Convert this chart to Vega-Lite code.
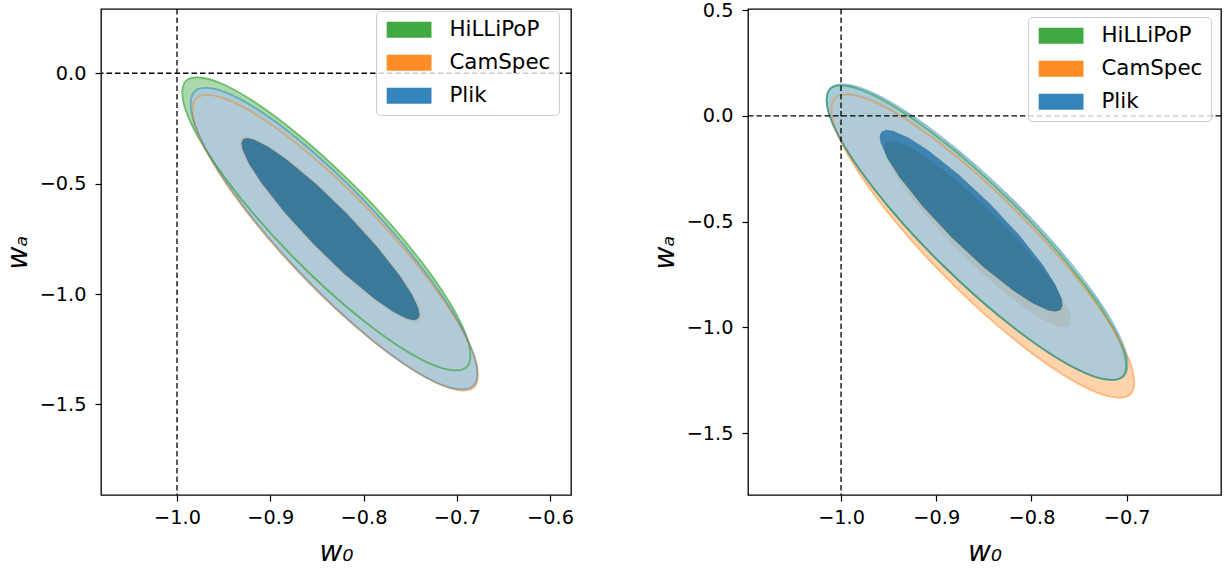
{
  "$schema": "https://vega.github.io/schema/vega-lite/v6.json",
  "background": "white",
  "padding": {"left": 3, "top": 0, "right": 0, "bottom": 0},
  "spacing": 75,
  "datasets": {
    "left": [
      {"s":"HiLLiPoP","l":95,"i":0,"w0":-0.6898,"wa":-1.3318},
      {"s":"HiLLiPoP","l":95,"i":1,"w0":-0.6911,"wa":-1.1742},
      {"s":"HiLLiPoP","l":95,"i":2,"w0":-0.7323,"wa":-0.8848},
      {"s":"HiLLiPoP","l":95,"i":3,"w0":-0.8023,"wa":-0.5411},
      {"s":"HiLLiPoP","l":95,"i":4,"w0":-0.8824,"wa":-0.2351},
      {"s":"HiLLiPoP","l":95,"i":5,"w0":-0.9511,"wa":-0.0489},
      {"s":"HiLLiPoP","l":95,"i":6,"w0":-0.9900,"wa":-0.0324},
      {"s":"HiLLiPoP","l":95,"i":7,"w0":-0.9888,"wa":-0.1899},
      {"s":"HiLLiPoP","l":95,"i":8,"w0":-0.9476,"wa":-0.4793},
      {"s":"HiLLiPoP","l":95,"i":9,"w0":-0.8776,"wa":-0.8231},
      {"s":"HiLLiPoP","l":95,"i":10,"w0":-0.7975,"wa":-1.1291},
      {"s":"HiLLiPoP","l":95,"i":11,"w0":-0.7288,"wa":-1.3152},
      {"s":"HiLLiPoP","l":68,"i":0,"w0":-0.7417,"wa":-1.1131},
      {"s":"HiLLiPoP","l":68,"i":1,"w0":-0.7452,"wa":-1.0247},
      {"s":"HiLLiPoP","l":68,"i":2,"w0":-0.7728,"wa":-0.8511},
      {"s":"HiLLiPoP","l":68,"i":3,"w0":-0.8173,"wa":-0.6385},
      {"s":"HiLLiPoP","l":68,"i":4,"w0":-0.8666,"wa":-0.4441},
      {"s":"HiLLiPoP","l":68,"i":5,"w0":-0.9075,"wa":-0.3199},
      {"s":"HiLLiPoP","l":68,"i":6,"w0":-0.9291,"wa":-0.2992},
      {"s":"HiLLiPoP","l":68,"i":7,"w0":-0.9256,"wa":-0.3875},
      {"s":"HiLLiPoP","l":68,"i":8,"w0":-0.8979,"wa":-0.5612},
      {"s":"HiLLiPoP","l":68,"i":9,"w0":-0.8535,"wa":-0.7737},
      {"s":"HiLLiPoP","l":68,"i":10,"w0":-0.8042,"wa":-0.9682},
      {"s":"HiLLiPoP","l":68,"i":11,"w0":-0.7633,"wa":-1.0924},
      {"s":"CamSpec","l":95,"i":0,"w0":-0.6817,"wa":-1.4231},
      {"s":"CamSpec","l":95,"i":1,"w0":-0.6826,"wa":-1.2655},
      {"s":"CamSpec","l":95,"i":2,"w0":-0.7231,"wa":-0.9744},
      {"s":"CamSpec","l":95,"i":3,"w0":-0.7922,"wa":-0.6279},
      {"s":"CamSpec","l":95,"i":4,"w0":-0.8716,"wa":-0.3187},
      {"s":"CamSpec","l":95,"i":5,"w0":-0.9399,"wa":-0.1298},
      {"s":"CamSpec","l":95,"i":6,"w0":-0.9788,"wa":-0.1118},
      {"s":"CamSpec","l":95,"i":7,"w0":-0.9779,"wa":-0.2694},
      {"s":"CamSpec","l":95,"i":8,"w0":-0.9374,"wa":-0.5605},
      {"s":"CamSpec","l":95,"i":9,"w0":-0.8683,"wa":-0.9071},
      {"s":"CamSpec","l":95,"i":10,"w0":-0.7889,"wa":-1.2162},
      {"s":"CamSpec","l":95,"i":11,"w0":-0.7207,"wa":-1.4051},
      {"s":"CamSpec","l":68,"i":0,"w0":-0.7398,"wa":-1.1212},
      {"s":"CamSpec","l":68,"i":1,"w0":-0.7430,"wa":-1.0298},
      {"s":"CamSpec","l":68,"i":2,"w0":-0.7710,"wa":-0.8516},
      {"s":"CamSpec","l":68,"i":3,"w0":-0.8162,"wa":-0.6345},
      {"s":"CamSpec","l":68,"i":4,"w0":-0.8666,"wa":-0.4365},
      {"s":"CamSpec","l":68,"i":5,"w0":-0.9086,"wa":-0.3108},
      {"s":"CamSpec","l":68,"i":6,"w0":-0.9310,"wa":-0.2910},
      {"s":"CamSpec","l":68,"i":7,"w0":-0.9278,"wa":-0.3825},
      {"s":"CamSpec","l":68,"i":8,"w0":-0.8998,"wa":-0.5606},
      {"s":"CamSpec","l":68,"i":9,"w0":-0.8546,"wa":-0.7778},
      {"s":"CamSpec","l":68,"i":10,"w0":-0.8042,"wa":-0.9757},
      {"s":"CamSpec","l":68,"i":11,"w0":-0.7622,"wa":-1.1014},
      {"s":"Plik","l":95,"i":0,"w0":-0.6829,"wa":-1.4183},
      {"s":"Plik","l":95,"i":1,"w0":-0.6832,"wa":-1.2579},
      {"s":"Plik","l":95,"i":2,"w0":-0.7233,"wa":-0.9612},
      {"s":"Plik","l":95,"i":3,"w0":-0.7924,"wa":-0.6077},
      {"s":"Plik","l":95,"i":4,"w0":-0.8721,"wa":-0.2921},
      {"s":"Plik","l":95,"i":5,"w0":-0.9409,"wa":-0.0990},
      {"s":"Plik","l":95,"i":6,"w0":-0.9805,"wa":-0.0801},
      {"s":"Plik","l":95,"i":7,"w0":-0.9802,"wa":-0.2405},
      {"s":"Plik","l":95,"i":8,"w0":-0.9401,"wa":-0.5372},
      {"s":"Plik","l":95,"i":9,"w0":-0.8709,"wa":-0.8907},
      {"s":"Plik","l":95,"i":10,"w0":-0.7913,"wa":-1.2063},
      {"s":"Plik","l":95,"i":11,"w0":-0.7225,"wa":-1.3994}
    ],
    "ringL": [
      {"s":"Plik","p":"o","i":0,"w0":-0.6829,"wa":-1.4183},
      {"s":"Plik","p":"o","i":1,"w0":-0.6784,"wa":-1.3836},
      {"s":"Plik","p":"o","i":2,"w0":-0.6785,"wa":-1.3296},
      {"s":"Plik","p":"o","i":3,"w0":-0.6873,"wa":-1.2162},
      {"s":"Plik","p":"o","i":4,"w0":-0.7060,"wa":-1.0709},
      {"s":"Plik","p":"o","i":5,"w0":-0.7439,"wa":-0.8451},
      {"s":"Plik","p":"o","i":6,"w0":-0.7924,"wa":-0.6077},
      {"s":"Plik","p":"o","i":7,"w0":-0.8457,"wa":-0.3874},
      {"s":"Plik","p":"o","i":8,"w0":-0.8972,"wa":-0.2107},
      {"s":"Plik","p":"o","i":9,"w0":-0.9310,"wa":-0.1199},
      {"s":"Plik","p":"o","i":10,"w0":-0.9581,"wa":-0.0721},
      {"s":"Plik","p":"o","i":11,"w0":-0.9714,"wa":-0.0657},
      {"s":"Plik","p":"o","i":12,"w0":-0.9805,"wa":-0.0801},
      {"s":"Plik","p":"o","i":13,"w0":-0.9850,"wa":-0.1148},
      {"s":"Plik","p":"o","i":14,"w0":-0.9849,"wa":-0.1689},
      {"s":"Plik","p":"o","i":15,"w0":-0.9761,"wa":-0.2822},
      {"s":"Plik","p":"o","i":16,"w0":-0.9574,"wa":-0.4275},
      {"s":"Plik","p":"o","i":17,"w0":-0.9195,"wa":-0.6534},
      {"s":"Plik","p":"o","i":18,"w0":-0.8709,"wa":-0.8907},
      {"s":"Plik","p":"o","i":19,"w0":-0.8177,"wa":-1.1110},
      {"s":"Plik","p":"o","i":20,"w0":-0.7661,"wa":-1.2877},
      {"s":"Plik","p":"o","i":21,"w0":-0.7323,"wa":-1.3785},
      {"s":"Plik","p":"o","i":22,"w0":-0.7053,"wa":-1.4264},
      {"s":"Plik","p":"o","i":23,"w0":-0.6920,"wa":-1.4327},
      {"s":"Plik","p":"o","i":24,"w0":-0.6829,"wa":-1.4183},
      {"s":"Plik","p":"h","i":25,"w0":-0.7417,"wa":-1.1131},
      {"s":"Plik","p":"h","i":26,"w0":-0.7462,"wa":-1.1186},
      {"s":"Plik","p":"h","i":27,"w0":-0.7535,"wa":-1.1117},
      {"s":"Plik","p":"h","i":28,"w0":-0.7690,"wa":-1.0783},
      {"s":"Plik","p":"h","i":29,"w0":-0.7890,"wa":-1.0195},
      {"s":"Plik","p":"h","i":30,"w0":-0.8204,"wa":-0.9088},
      {"s":"Plik","p":"h","i":31,"w0":-0.8535,"wa":-0.7737},
      {"s":"Plik","p":"h","i":32,"w0":-0.8845,"wa":-0.6305},
      {"s":"Plik","p":"h","i":33,"w0":-0.9095,"wa":-0.4963},
      {"s":"Plik","p":"h","i":34,"w0":-0.9226,"wa":-0.4115},
      {"s":"Plik","p":"h","i":35,"w0":-0.9297,"wa":-0.3468},
      {"s":"Plik","p":"h","i":36,"w0":-0.9309,"wa":-0.3171},
      {"s":"Plik","p":"h","i":37,"w0":-0.9291,"wa":-0.2992},
      {"s":"Plik","p":"h","i":38,"w0":-0.9246,"wa":-0.2936},
      {"s":"Plik","p":"h","i":39,"w0":-0.9173,"wa":-0.3006},
      {"s":"Plik","p":"h","i":40,"w0":-0.9018,"wa":-0.3340},
      {"s":"Plik","p":"h","i":41,"w0":-0.8818,"wa":-0.3927},
      {"s":"Plik","p":"h","i":42,"w0":-0.8504,"wa":-0.5034},
      {"s":"Plik","p":"h","i":43,"w0":-0.8173,"wa":-0.6385},
      {"s":"Plik","p":"h","i":44,"w0":-0.7863,"wa":-0.7818},
      {"s":"Plik","p":"h","i":45,"w0":-0.7613,"wa":-0.9159},
      {"s":"Plik","p":"h","i":46,"w0":-0.7482,"wa":-1.0007},
      {"s":"Plik","p":"h","i":47,"w0":-0.7411,"wa":-1.0654},
      {"s":"Plik","p":"h","i":48,"w0":-0.7399,"wa":-1.0952},
      {"s":"Plik","p":"h","i":49,"w0":-0.7417,"wa":-1.1131}
    ],
    "right": [
      {"s":"HiLLiPoP","l":95,"i":0,"w0":-0.7048,"wa":-1.2334},
      {"s":"HiLLiPoP","l":95,"i":1,"w0":-0.7071,"wa":-1.0686},
      {"s":"HiLLiPoP","l":95,"i":2,"w0":-0.7499,"wa":-0.7656},
      {"s":"HiLLiPoP","l":95,"i":3,"w0":-0.8216,"wa":-0.4056},
      {"s":"HiLLiPoP","l":95,"i":4,"w0":-0.9031,"wa":-0.0850},
      {"s":"HiLLiPoP","l":95,"i":5,"w0":-0.9724,"wa":0.1102},
      {"s":"HiLLiPoP","l":95,"i":6,"w0":-1.0112,"wa":0.1277},
      {"s":"HiLLiPoP","l":95,"i":7,"w0":-1.0089,"wa":-0.0372},
      {"s":"HiLLiPoP","l":95,"i":8,"w0":-0.9661,"wa":-0.3402},
      {"s":"HiLLiPoP","l":95,"i":9,"w0":-0.8944,"wa":-0.7002},
      {"s":"HiLLiPoP","l":95,"i":10,"w0":-0.8129,"wa":-1.0207},
      {"s":"HiLLiPoP","l":95,"i":11,"w0":-0.7436,"wa":-1.2159},
      {"s":"HiLLiPoP","l":68,"i":0,"w0":-0.7605,"wa":-0.9929},
      {"s":"HiLLiPoP","l":68,"i":1,"w0":-0.7635,"wa":-0.8958},
      {"s":"HiLLiPoP","l":68,"i":2,"w0":-0.7914,"wa":-0.7086},
      {"s":"HiLLiPoP","l":68,"i":3,"w0":-0.8367,"wa":-0.4816},
      {"s":"HiLLiPoP","l":68,"i":4,"w0":-0.8872,"wa":-0.2756},
      {"s":"HiLLiPoP","l":68,"i":5,"w0":-0.9295,"wa":-0.1457},
      {"s":"HiLLiPoP","l":68,"i":6,"w0":-0.9522,"wa":-0.1267},
      {"s":"HiLLiPoP","l":68,"i":7,"w0":-0.9492,"wa":-0.2238},
      {"s":"HiLLiPoP","l":68,"i":8,"w0":-0.9213,"wa":-0.4109},
      {"s":"HiLLiPoP","l":68,"i":9,"w0":-0.8760,"wa":-0.6380},
      {"s":"HiLLiPoP","l":68,"i":10,"w0":-0.8255,"wa":-0.8440},
      {"s":"HiLLiPoP","l":68,"i":11,"w0":-0.7832,"wa":-0.9739},
      {"s":"CamSpec","l":95,"i":0,"w0":-0.6964,"wa":-1.3169},
      {"s":"CamSpec","l":95,"i":1,"w0":-0.6981,"wa":-1.1473},
      {"s":"CamSpec","l":95,"i":2,"w0":-0.7407,"wa":-0.8351},
      {"s":"CamSpec","l":95,"i":3,"w0":-0.8129,"wa":-0.4640},
      {"s":"CamSpec","l":95,"i":4,"w0":-0.8953,"wa":-0.1334},
      {"s":"CamSpec","l":95,"i":5,"w0":-0.9658,"wa":0.0681},
      {"s":"CamSpec","l":95,"i":6,"w0":-1.0057,"wa":0.0864},
      {"s":"CamSpec","l":95,"i":7,"w0":-1.0040,"wa":-0.0832},
      {"s":"CamSpec","l":95,"i":8,"w0":-0.9614,"wa":-0.3954},
      {"s":"CamSpec","l":95,"i":9,"w0":-0.8892,"wa":-0.7665},
      {"s":"CamSpec","l":95,"i":10,"w0":-0.8068,"wa":-1.0971},
      {"s":"CamSpec","l":95,"i":11,"w0":-0.7362,"wa":-1.2986},
      {"s":"CamSpec","l":68,"i":0,"w0":-0.7605,"wa":-0.9929},
      {"s":"CamSpec","l":68,"i":1,"w0":-0.7635,"wa":-0.8958},
      {"s":"CamSpec","l":68,"i":2,"w0":-0.7914,"wa":-0.7086},
      {"s":"CamSpec","l":68,"i":3,"w0":-0.8367,"wa":-0.4816},
      {"s":"CamSpec","l":68,"i":4,"w0":-0.8872,"wa":-0.2756},
      {"s":"CamSpec","l":68,"i":5,"w0":-0.9295,"wa":-0.1457},
      {"s":"CamSpec","l":68,"i":6,"w0":-0.9522,"wa":-0.1267},
      {"s":"CamSpec","l":68,"i":7,"w0":-0.9492,"wa":-0.2238},
      {"s":"CamSpec","l":68,"i":8,"w0":-0.9213,"wa":-0.4109},
      {"s":"CamSpec","l":68,"i":9,"w0":-0.8760,"wa":-0.6380},
      {"s":"CamSpec","l":68,"i":10,"w0":-0.8255,"wa":-0.8440},
      {"s":"CamSpec","l":68,"i":11,"w0":-0.7832,"wa":-0.9739},
      {"s":"Plik","l":95,"i":0,"w0":-0.7035,"wa":-1.2322},
      {"s":"Plik","l":95,"i":1,"w0":-0.7053,"wa":-1.0648},
      {"s":"Plik","l":95,"i":2,"w0":-0.7478,"wa":-0.7593},
      {"s":"Plik","l":95,"i":3,"w0":-0.8196,"wa":-0.3976},
      {"s":"Plik","l":95,"i":4,"w0":-0.9015,"wa":-0.0765},
      {"s":"Plik","l":95,"i":5,"w0":-0.9715,"wa":0.1178},
      {"s":"Plik","l":95,"i":6,"w0":-1.0108,"wa":0.1334},
      {"s":"Plik","l":95,"i":7,"w0":-1.0090,"wa":-0.0340},
      {"s":"Plik","l":95,"i":8,"w0":-0.9665,"wa":-0.3395},
      {"s":"Plik","l":95,"i":9,"w0":-0.8947,"wa":-0.7012},
      {"s":"Plik","l":95,"i":10,"w0":-0.8128,"wa":-1.0223},
      {"s":"Plik","l":95,"i":11,"w0":-0.7429,"wa":-1.2166}
    ],
    "ringR": [
      {"s":"Plik","p":"o","i":0,"w0":-0.7035,"wa":-1.2322},
      {"s":"Plik","p":"o","i":1,"w0":-0.6993,"wa":-1.1955},
      {"s":"Plik","p":"o","i":2,"w0":-0.6999,"wa":-1.1391},
      {"s":"Plik","p":"o","i":3,"w0":-0.7098,"wa":-1.0217},
      {"s":"Plik","p":"o","i":4,"w0":-0.7296,"wa":-0.8720},
      {"s":"Plik","p":"o","i":5,"w0":-0.7693,"wa":-0.6403},
      {"s":"Plik","p":"o","i":6,"w0":-0.8196,"wa":-0.3976},
      {"s":"Plik","p":"o","i":7,"w0":-0.8745,"wa":-0.1732},
      {"s":"Plik","p":"o","i":8,"w0":-0.9272,"wa":0.0058},
      {"s":"Plik","p":"o","i":9,"w0":-0.9615,"wa":0.0970},
      {"s":"Plik","p":"o","i":10,"w0":-0.9887,"wa":0.1442},
      {"s":"Plik","p":"o","i":11,"w0":-1.0020,"wa":0.1494},
      {"s":"Plik","p":"o","i":12,"w0":-1.0108,"wa":0.1334},
      {"s":"Plik","p":"o","i":13,"w0":-1.0150,"wa":0.0967},
      {"s":"Plik","p":"o","i":14,"w0":-1.0144,"wa":0.0403},
      {"s":"Plik","p":"o","i":15,"w0":-1.0046,"wa":-0.0771},
      {"s":"Plik","p":"o","i":16,"w0":-0.9847,"wa":-0.2268},
      {"s":"Plik","p":"o","i":17,"w0":-0.9450,"wa":-0.4585},
      {"s":"Plik","p":"o","i":18,"w0":-0.8947,"wa":-0.7012},
      {"s":"Plik","p":"o","i":19,"w0":-0.8399,"wa":-0.9256},
      {"s":"Plik","p":"o","i":20,"w0":-0.7871,"wa":-1.1046},
      {"s":"Plik","p":"o","i":21,"w0":-0.7528,"wa":-1.1958},
      {"s":"Plik","p":"o","i":22,"w0":-0.7256,"wa":-1.2429},
      {"s":"Plik","p":"o","i":23,"w0":-0.7124,"wa":-1.2482},
      {"s":"Plik","p":"o","i":24,"w0":-0.7035,"wa":-1.2322},
      {"s":"Plik","p":"h","i":25,"w0":-0.7696,"wa":-0.9177},
      {"s":"Plik","p":"h","i":26,"w0":-0.7745,"wa":-0.9251},
      {"s":"Plik","p":"h","i":27,"w0":-0.7821,"wa":-0.9196},
      {"s":"Plik","p":"h","i":28,"w0":-0.7981,"wa":-0.8873},
      {"s":"Plik","p":"h","i":29,"w0":-0.8185,"wa":-0.8283},
      {"s":"Plik","p":"h","i":30,"w0":-0.8502,"wa":-0.7152},
      {"s":"Plik","p":"h","i":31,"w0":-0.8835,"wa":-0.5757},
      {"s":"Plik","p":"h","i":32,"w0":-0.9145,"wa":-0.4266},
      {"s":"Plik","p":"h","i":33,"w0":-0.9392,"wa":-0.2858},
      {"s":"Plik","p":"h","i":34,"w0":-0.9519,"wa":-0.1959},
      {"s":"Plik","p":"h","i":35,"w0":-0.9586,"wa":-0.1265},
      {"s":"Plik","p":"h","i":36,"w0":-0.9595,"wa":-0.0940},
      {"s":"Plik","p":"h","i":37,"w0":-0.9574,"wa":-0.0737},
      {"s":"Plik","p":"h","i":38,"w0":-0.9525,"wa":-0.0662},
      {"s":"Plik","p":"h","i":39,"w0":-0.9449,"wa":-0.0718},
      {"s":"Plik","p":"h","i":40,"w0":-0.9290,"wa":-0.1041},
      {"s":"Plik","p":"h","i":41,"w0":-0.9085,"wa":-0.1631},
      {"s":"Plik","p":"h","i":42,"w0":-0.8768,"wa":-0.2761},
      {"s":"Plik","p":"h","i":43,"w0":-0.8435,"wa":-0.4156},
      {"s":"Plik","p":"h","i":44,"w0":-0.8126,"wa":-0.5648},
      {"s":"Plik","p":"h","i":45,"w0":-0.7878,"wa":-0.7056},
      {"s":"Plik","p":"h","i":46,"w0":-0.7751,"wa":-0.7954},
      {"s":"Plik","p":"h","i":47,"w0":-0.7684,"wa":-0.8648},
      {"s":"Plik","p":"h","i":48,"w0":-0.7675,"wa":-0.8973},
      {"s":"Plik","p":"h","i":49,"w0":-0.7696,"wa":-0.9177}
    ],
    "ref": [{"w0": -1, "wa": 0}]
  },
  "hconcat": [
    {
      "width": 470,
      "height": 486,
      "layer": [
        {
          "data": {"name": "left"},
          "encoding": {
            "x": {"field": "w0", "type": "quantitative", "title": "w₀", "scale": {"domain": [-1.0815, -0.5775], "nice": false, "zero": false}, "axis": {"values": [-1, -0.9, -0.8, -0.7, -0.6], "format": ".1f"}},
            "y": {"field": "wa", "type": "quantitative", "title": "wₐ", "scale": {"domain": [-1.91, 0.291], "nice": false, "zero": false}, "axis": {"values": [0, -0.5, -1, -1.5], "format": ".1f"}},
            "order": {"field": "i", "type": "quantitative"}
          },
          "layer": [
            {"transform": [{"filter": "datum.s === 'HiLLiPoP' && datum.l === 95"}], "mark": {"type": "line", "filled": true, "interpolate": "cardinal-closed", "fill": "#abd9ab"}},
            {"transform": [{"filter": "datum.s === 'CamSpec' && datum.l === 95"}], "mark": {"type": "line", "filled": true, "interpolate": "cardinal-closed", "fill": "#ffcc9f", "opacity": 0.85}},
            {"transform": [{"filter": "datum.s === 'HiLLiPoP' && datum.l === 68"}], "mark": {"type": "line", "filled": true, "interpolate": "cardinal-closed"},
             "encoding": {"fill": {"field": "s", "type": "nominal", "scale": {"domain": ["HiLLiPoP", "CamSpec", "Plik"], "range": ["#2ca02c", "#ff7f0e", "#1f77b4"]}, "legend": {"title": null, "orient": "none", "legendX": 275, "legendY": 2}}}},
            {"transform": [{"filter": "datum.s === 'CamSpec' && datum.l === 68"}], "mark": {"type": "line", "filled": true, "interpolate": "cardinal-closed", "opacity": 0.85},
             "encoding": {"fill": {"field": "s", "type": "nominal", "scale": {"domain": ["HiLLiPoP", "CamSpec", "Plik"], "range": ["#2ca02c", "#ff7f0e", "#1f77b4"]}, "legend": {"title": null, "orient": "none", "legendX": 275, "legendY": 2}}}},
            {"data": {"name": "ringL"}, "mark": {"type": "line", "filled": true, "interpolate": "linear-closed", "fill": "#a5c9e1", "opacity": 0.85}},
            {"data": {"name": "ringL"}, "transform": [{"filter": "datum.p === 'h'"}], "mark": {"type": "line", "filled": true, "interpolate": "linear-closed", "opacity": 0.85},
             "encoding": {"fill": {"field": "s", "type": "nominal", "scale": {"domain": ["HiLLiPoP", "CamSpec", "Plik"], "range": ["#2ca02c", "#ff7f0e", "#1f77b4"]}, "legend": {"title": null, "orient": "none", "legendX": 275, "legendY": 2}}}},
            {"transform": [{"filter": "datum.s === 'HiLLiPoP' && datum.l === 95"}], "mark": {"type": "line", "interpolate": "cardinal-closed", "stroke": "#2ca02c", "strokeOpacity": 0.6, "strokeWidth": 1.8}},
            {"transform": [{"filter": "datum.s === 'CamSpec' && datum.l === 95"}], "mark": {"type": "line", "interpolate": "cardinal-closed", "stroke": "#ff7f0e", "strokeOpacity": 0.45, "strokeWidth": 1.8}},
            {"transform": [{"filter": "datum.s === 'Plik' && datum.l === 95"}], "mark": {"type": "line", "interpolate": "cardinal-closed", "stroke": "#1f77b4", "strokeOpacity": 0.45, "strokeWidth": 1.8}}
          ]
        },
        {"data": {"name": "ref"}, "mark": {"type": "rule", "color": "black", "strokeWidth": 1.3, "strokeDash": [5.5, 3]},
         "encoding": {"x": {"field": "w0", "type": "quantitative", "title": "w₀", "scale": {"domain": [-1.0815, -0.5775], "nice": false, "zero": false}}}},
        {"data": {"name": "ref"}, "mark": {"type": "rule", "color": "black", "strokeWidth": 1.3, "strokeDash": [5.5, 3]},
         "encoding": {"y": {"field": "wa", "type": "quantitative", "title": "wₐ", "scale": {"domain": [-1.91, 0.291], "nice": false, "zero": false}}}}
      ]
    },
    {
      "width": 473,
      "height": 486,
      "layer": [
        {
          "data": {"name": "right"},
          "encoding": {
            "x": {"field": "w0", "type": "quantitative", "title": "w₀", "scale": {"domain": [-1.0977, -0.601], "nice": false, "zero": false}, "axis": {"values": [-1, -0.9, -0.8, -0.7], "format": ".1f"}},
            "y": {"field": "wa", "type": "quantitative", "title": "wₐ", "scale": {"domain": [-1.792, 0.505], "nice": false, "zero": false}, "axis": {"values": [0.5, 0, -0.5, -1, -1.5], "format": ".1f"}},
            "order": {"field": "i", "type": "quantitative"}
          },
          "layer": [
            {"transform": [{"filter": "datum.s === 'HiLLiPoP' && datum.l === 95"}], "mark": {"type": "line", "filled": true, "interpolate": "cardinal-closed", "fill": "#abd9ab"}},
            {"transform": [{"filter": "datum.s === 'CamSpec' && datum.l === 95"}], "mark": {"type": "line", "filled": true, "interpolate": "cardinal-closed", "fill": "#ffcc9f", "opacity": 0.85}},
            {"transform": [{"filter": "datum.s === 'HiLLiPoP' && datum.l === 68"}], "mark": {"type": "line", "filled": true, "interpolate": "cardinal-closed"},
             "encoding": {"fill": {"field": "s", "type": "nominal", "scale": {"domain": ["HiLLiPoP", "CamSpec", "Plik"], "range": ["#2ca02c", "#ff7f0e", "#1f77b4"]}, "legend": {"title": null, "orient": "none", "legendX": 280, "legendY": 8}}}},
            {"transform": [{"filter": "datum.s === 'CamSpec' && datum.l === 68"}], "mark": {"type": "line", "filled": true, "interpolate": "cardinal-closed", "opacity": 0.85},
             "encoding": {"fill": {"field": "s", "type": "nominal", "scale": {"domain": ["HiLLiPoP", "CamSpec", "Plik"], "range": ["#2ca02c", "#ff7f0e", "#1f77b4"]}, "legend": {"title": null, "orient": "none", "legendX": 280, "legendY": 8}}}},
            {"data": {"name": "ringR"}, "mark": {"type": "line", "filled": true, "interpolate": "linear-closed", "fill": "#a5c9e1", "opacity": 0.85}},
            {"data": {"name": "ringR"}, "transform": [{"filter": "datum.p === 'h'"}], "mark": {"type": "line", "filled": true, "interpolate": "linear-closed", "opacity": 0.85},
             "encoding": {"fill": {"field": "s", "type": "nominal", "scale": {"domain": ["HiLLiPoP", "CamSpec", "Plik"], "range": ["#2ca02c", "#ff7f0e", "#1f77b4"]}, "legend": {"title": null, "orient": "none", "legendX": 280, "legendY": 8}}}},
            {"transform": [{"filter": "datum.s === 'HiLLiPoP' && datum.l === 95"}], "mark": {"type": "line", "interpolate": "cardinal-closed", "stroke": "#2ca02c", "strokeOpacity": 0.6, "strokeWidth": 1.8}},
            {"transform": [{"filter": "datum.s === 'CamSpec' && datum.l === 95"}], "mark": {"type": "line", "interpolate": "cardinal-closed", "stroke": "#ff7f0e", "strokeOpacity": 0.45, "strokeWidth": 1.8}},
            {"transform": [{"filter": "datum.s === 'Plik' && datum.l === 95"}], "mark": {"type": "line", "interpolate": "cardinal-closed", "stroke": "#1f77b4", "strokeOpacity": 0.45, "strokeWidth": 1.8}}
          ]
        },
        {"data": {"name": "ref"}, "mark": {"type": "rule", "color": "black", "strokeWidth": 1.3, "strokeDash": [5.5, 3]},
         "encoding": {"x": {"field": "w0", "type": "quantitative", "title": "w₀", "scale": {"domain": [-1.0977, -0.601], "nice": false, "zero": false}}}},
        {"data": {"name": "ref"}, "mark": {"type": "rule", "color": "black", "strokeWidth": 1.3, "strokeDash": [5.5, 3]},
         "encoding": {"y": {"field": "wa", "type": "quantitative", "title": "wₐ", "scale": {"domain": [-1.792, 0.505], "nice": false, "zero": false}}}}
      ]
    }
  ],
  "resolve": {"scale": {"x": "independent", "y": "independent", "fill": "independent"}, "legend": {"fill": "independent"}},
  "config": {
    "font": "DejaVu Sans",
    "view": {"stroke": "black", "strokeWidth": 1.3},
    "axis": {"grid": false, "domain": false, "ticks": true, "tickColor": "black", "tickSize": 6, "tickWidth": 1.2, "labelFont": "DejaVu Sans", "labelFontSize": 19.3, "labelColor": "black", "labelFlush": false, "titleFont": "DejaVu Sans", "titleFontSize": 28, "titleFontStyle": "italic", "titleFontWeight": "normal", "titleColor": "black"},
    "axisX": {"labelPadding": 7, "titlePadding": 11},
    "axisY": {"labelPadding": 9, "titlePadding": 7},
    "legend": {"symbolType": "M-1,-1H4.6V1H-1Z", "symbolSize": 256, "symbolStrokeWidth": 0, "symbolOpacity": 0.9, "labelFont": "DejaVu Sans", "labelFontSize": 21.4, "labelColor": "black", "labelOffset": 44, "rowPadding": 10, "padding": 8, "fillColor": "rgba(255,255,255,0.8)", "strokeColor": "#cccccc", "cornerRadius": 4}
  }
}
